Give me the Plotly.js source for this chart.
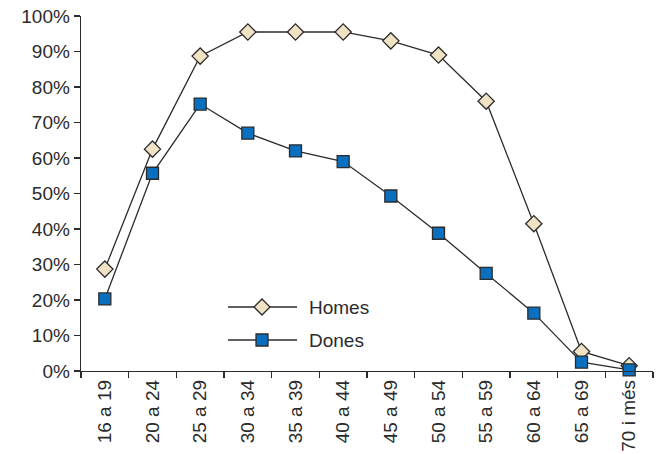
<!DOCTYPE html>
<html><head><meta charset="utf-8">
<script src="https://cdn.plot.ly/plotly-3.0.1.min.js"></script>
<style>body{margin:0;padding:0;background:#fff}#chart{width:664px;height:454px}</style>
</head><body><div id="chart"></div>
<script>
var categories = ["16 a 19","20 a 24","25 a 29","30 a 34","35 a 39","40 a 44","45 a 49","50 a 54","55 a 59","60 a 64","65 a 69","70 i més"];
var homes = [0.287,0.625,0.887,0.955,0.955,0.955,0.93,0.89,0.76,0.415,0.055,0.015];
var dones = [0.203,0.557,0.752,0.67,0.62,0.59,0.493,0.388,0.275,0.163,0.025,0.003];
var seriesNames = ["Homes","Dones"];

var font = {family:"Liberation Sans, Arial, sans-serif", size:19, color:"#2b2b2b"};
var lineCol = "#2b2b2b";

var traces = [
 {x:categories, y:homes, name:seriesNames[0], type:"scatter", mode:"lines+markers", cliponaxis:false, showlegend:false,
  line:{color:lineCol,width:1.3},
  marker:{symbol:"diamond", size:12.5, color:"#efe3c3", line:{color:lineCol,width:1.3}}},
 {x:categories, y:dones, name:seriesNames[1], type:"scatter", mode:"lines+markers", cliponaxis:false, showlegend:false,
  line:{color:lineCol,width:1.3},
  marker:{symbol:"square", size:12, color:"#0a6fbf", line:{color:lineCol,width:1.3}}}
];

var W = 572, H = 355;
function px(x){return (x-81)/W;}
function py(y){return (371-y)/H;}
var shapes = [
 {type:"line", xref:"paper", yref:"paper", x0:px(228), x1:px(297), y0:py(307), y1:py(307), line:{color:lineCol,width:1.3}},
 {type:"line", xref:"paper", yref:"paper", x0:px(228), x1:px(297), y0:py(340), y1:py(340), line:{color:lineCol,width:1.3}},
 {type:"path", xref:"paper", yref:"paper", xsizemode:"pixel", ysizemode:"pixel", xanchor:px(262), yanchor:py(307),
  path:"M -8 0 L 0 -8 L 8 0 L 0 8 Z", fillcolor:"#efe3c3", line:{color:lineCol,width:1.3}},
 {type:"path", xref:"paper", yref:"paper", xsizemode:"pixel", ysizemode:"pixel", xanchor:px(262), yanchor:py(340),
  path:"M -6 -6 L 6 -6 L 6 6 L -6 6 Z", fillcolor:"#0a6fbf", line:{color:lineCol,width:1.3}}
];
var annotations = [
 {xref:"paper", yref:"paper", x:px(307), y:py(307), xanchor:"left", yanchor:"middle", text:seriesNames[0], showarrow:false, font:font},
 {xref:"paper", yref:"paper", x:px(307), y:py(340), xanchor:"left", yanchor:"middle", text:seriesNames[1], showarrow:false, font:font}
];

var layout = {
 width:664, height:454,
 margin:{l:81, r:11, t:16, b:83},
 paper_bgcolor:"#fff", plot_bgcolor:"#fff",
 font:font,
 showlegend:false,
 xaxis:{type:"category", tickangle:-90, showgrid:false, zeroline:false, showline:true, linecolor:lineCol, linewidth:1.3,
   ticks:"outside", ticklen:6, tickcolor:lineCol, tickwidth:1.3, tickson:"boundaries", range:[-0.5,11.5], tickfont:font},
 yaxis:{range:[0,1], dtick:0.1, tickformat:".0%", showgrid:false, zeroline:false, showline:true, linecolor:lineCol, linewidth:1.3,
   ticks:"outside", ticklen:6, tickcolor:lineCol, tickwidth:1.3, tickfont:font},
 shapes:shapes, annotations:annotations
};
Plotly.newPlot("chart", traces, layout, {displayModeBar:false, staticPlot:true});
</script></body></html>
